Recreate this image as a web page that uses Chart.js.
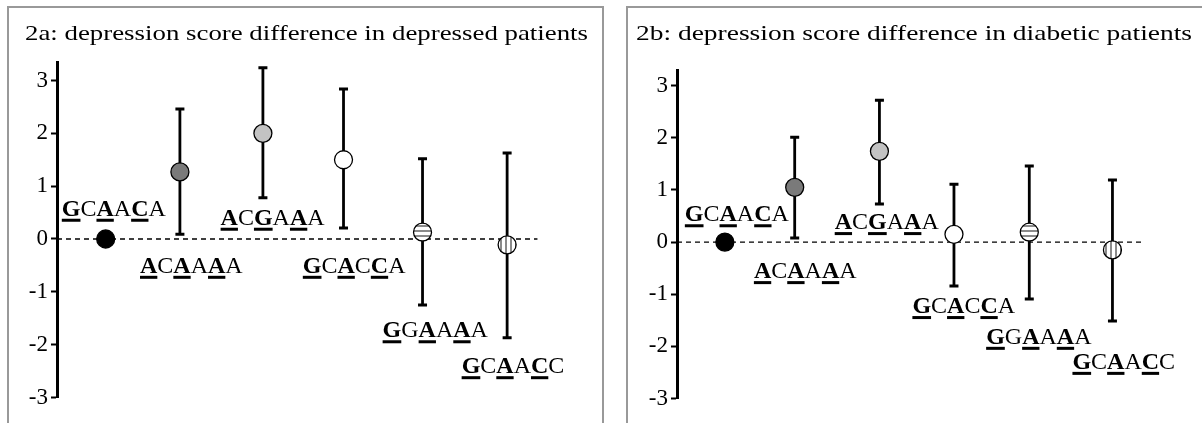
<!DOCTYPE html>
<html>
<head>
<meta charset="utf-8">
<title>Depression score difference by haplotype</title>
<script src="https://cdn.jsdelivr.net/npm/chart.js@4/dist/chart.umd.min.js"></script>
<style>
  html, body { margin: 0; padding: 0; background: #fff; overflow: hidden; }
  body { width: 1202px; height: 423px; position: relative; }
  .panel { position: absolute; box-sizing: border-box; border: 2px solid #999; top: 6px; height: 440px; }
  #panelA { left: 7px; width: 597px; }
  #panelB { left: 626px; width: 600px; }
  canvas { position: absolute; top: 0; }
  #chartA { left: 0; }
  #chartB { left: 620px; }
</style>
</head>
<body>
<div class="panel" id="panelA"></div>
<div class="panel" id="panelB"></div>
<canvas id="chartA" width="610" height="423"></canvas>
<canvas id="chartB" width="582" height="423"></canvas>
<script>
// haplotypes in plotting order, the first one is the reference group
const haplotypes = ['GCAACA', 'ACAAAA', 'ACGAAA', 'GCACCA', 'GGAAAA', 'GCAACC'];
const yTicks = [-3, -2, -1, 0, 1, 2, 3];

// 2a - depressed patients
const titleA = '2a: depression score difference in depressed patients';
const xA = [0.61, 1.54, 2.58, 3.59, 4.58, 5.64];
const meanA = [0, 1.27, 2.0, 1.5, 0.13, -0.11];
const upperA = [null, 2.46, 3.24, 2.84, 1.52, 1.63];
const lowerA = [null, 0.09, 0.78, 0.21, -1.25, -1.87];
const labelXA = [0.06, 1.04, 2.05, 3.08, 4.08, 5.07];
const labelYA = [0.44, -0.64, 0.27, -0.64, -1.86, -2.54];
const zeroEndA = 6.02;

// 2b - diabetic patients
const titleB = '2b: depression score difference in diabetic patients';
const xB = [0.61, 1.5, 2.58, 3.53, 4.49, 5.55];
const meanB = [0, 1.05, 1.74, 0.15, 0.19, -0.15];
const upperB = [null, 2.01, 2.72, 1.11, 1.46, 1.19];
const lowerB = [null, 0.08, 0.73, -0.84, -1.09, -1.51];
const labelXB = [0.1, 0.98, 2.01, 3.0, 3.94, 5.04];
const labelYB = [0.40, -0.69, 0.25, -1.36, -1.95, -2.43];
const zeroEndB = 5.95;

const SERIF = '"Liberation Serif", "Times New Roman", serif';

function stripes(horizontal) {
    const c = document.createElement('canvas');
    c.width = 5; c.height = 5;
    const g = c.getContext('2d');
    g.fillStyle = '#fff';
    g.fillRect(0, 0, 5, 5);
    g.fillStyle = '#8a8a8a';
    if (horizontal) g.fillRect(0, 0, 5, 2); else g.fillRect(0, 0, 2, 5);
    return g.createPattern(c, 'repeat');
}
const markerFills = ['#000', '#7a7a7a', '#c3c3c3', '#fff', stripes(true), stripes(false)];

// haplotype text: 1st, 3rd and 5th letters bold + underlined
function drawHaplotype(ctx, text, left, base) {
    let cx = left;
    for (let i = 0; i < text.length; i++) {
        const marked = i % 2 === 0;
        ctx.font = (marked ? 'bold ' : '') + '24px ' + SERIF;
        const w = ctx.measureText(text[i]).width;
        ctx.fillText(text[i], cx, base);
        if (marked) ctx.fillRect(cx, base + 3, w, 3);
        cx += w;
    }
}

function overlay(p) {
    return {
        id: 'overlay',
        beforeDatasetsDraw(chart) {
            const { ctx, scales: { x, y } } = chart;
            ctx.save();
            ctx.strokeStyle = '#000';
            p.upper.forEach((hi, i) => {
                if (hi == null) return;
                const px = x.getPixelForValue(p.xs[i]);
                const top = y.getPixelForValue(hi);
                const bot = y.getPixelForValue(p.lower[i]);
                ctx.lineWidth = 2.8;
                ctx.beginPath(); ctx.moveTo(px, top); ctx.lineTo(px, bot); ctx.stroke();
                ctx.lineWidth = 3;
                ctx.beginPath();
                ctx.moveTo(px - 4.5, top); ctx.lineTo(px + 4.5, top);
                ctx.moveTo(px - 4.5, bot); ctx.lineTo(px + 4.5, bot);
                ctx.stroke();
            });
            ctx.restore();
        },
        afterDraw(chart) {
            const { ctx, scales: { x, y } } = chart;
            ctx.save();
            ctx.fillStyle = '#000';
            ctx.textBaseline = 'alphabetic';
            ctx.textAlign = 'left';
            // title is stretched sideways like in the original figure
            ctx.font = '22px ' + SERIF;
            const natural = ctx.measureText(p.title).width;
            ctx.translate(p.titleLeft, 40);
            ctx.scale(p.titleWidth / natural, 1);
            ctx.fillText(p.title, 0, 0);
            ctx.setTransform(1, 0, 0, 1, 0, 0);
            haplotypes.forEach((h, i) => {
                drawHaplotype(ctx, h, x.getPixelForValue(p.labelX[i]), y.getPixelForValue(p.labelY[i]));
            });
            ctx.restore();
        }
    };
}

function makeChart(id, p) {
    return new Chart(document.getElementById(id), {
        type: 'scatter',
        data: {
            datasets: [
                {
                    data: p.xs.map((v, i) => ({ x: v, y: p.mean[i] })),
                    pointRadius: 9,
                    pointBackgroundColor: markerFills,
                    pointBorderColor: '#000',
                    pointBorderWidth: 1.3,
                    order: 0
                },
                {
                    type: 'line',
                    data: [{ x: 0, y: 0 }, { x: p.zeroEnd, y: 0 }],
                    borderColor: '#000',
                    borderWidth: 1.3,
                    borderDash: [5, 4],
                    pointRadius: 0,
                    order: 1
                }
            ]
        },
        options: {
            responsive: false,
            animation: false,
            events: [],
            layout: { padding: p.padding },
            plugins: { legend: { display: false }, tooltip: { enabled: false } },
            scales: {
                x: { type: 'linear', display: false, min: 0, max: p.xMax },
                y: {
                    min: -3, max: p.yMax,
                    afterBuildTicks: s => { s.ticks = yTicks.map(v => ({ value: v })); },
                    afterFit: s => { s.width = 50; },
                    border: { display: true, color: '#000', width: 3 },
                    grid: { display: true, drawOnChartArea: false, drawTicks: true, tickLength: 6, tickWidth: 2, tickColor: '#000' },
                    ticks: { color: '#000', font: { family: SERIF, size: 23 }, padding: 3 }
                }
            }
        },
        plugins: [overlay(p)]
    });
}

makeChart('chartA', {
    title: titleA, titleLeft: 25, titleWidth: 563,
    xs: xA, mean: meanA, upper: upperA, lower: lowerA,
    labelX: labelXA, labelY: labelYA, zeroEnd: zeroEndA,
    xMax: 6.8, yMax: 3.35,
    padding: { left: 7, right: 10, top: 62, bottom: 25.5 }
});

makeChart('chartB', {
    title: titleB, titleLeft: 16, titleWidth: 556,
    xs: xB, mean: meanB, upper: upperB, lower: lowerB,
    labelX: labelXB, labelY: labelYB, zeroEnd: zeroEndB,
    xMax: 6.56, yMax: 3.3,
    padding: { left: 7, right: 0, top: 70, bottom: 24.4 }
});
</script>
</body>
</html>
